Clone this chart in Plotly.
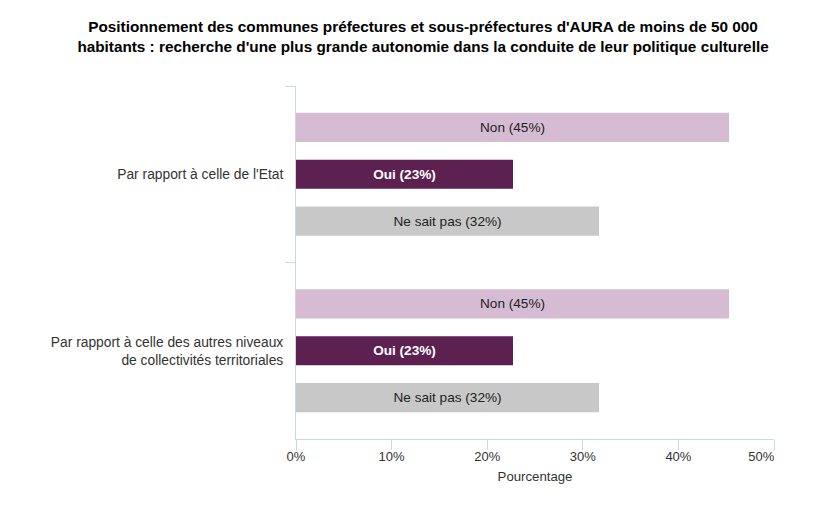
import plotly.graph_objects as go

categories = ["Par rapport à celle de l'Etat",
              "Par rapport à celle des autres niveaux<br>de collectivités territoriales"]
series_names = ["Non", "Oui", "Ne sait pas"]
values = {
    "Non": [45.3, 45.3],
    "Oui": [22.7, 22.7],
    "Ne sait pas": [31.7, 31.7],
}
label_pct = {"Non": ["45%", "45%"], "Oui": ["23%", "23%"], "Ne sait pas": ["32%", "32%"]}
colors = {"Non": "#d5bcd3", "Oui": "#5c2150", "Ne sait pas": "#c8c8c8"}
text_colors = {"Non": "#222222", "Oui": "#ffffff", "Ne sait pas": "#222222"}
x_ticks = [0, 10, 20, 30, 40, 50]
x_ticktext = ["0%", "10%", "20%", "30%", "40%", "50%" + "\u00a0" * 7]

FONT = "Liberation Sans, Arial, sans-serif"

fig = go.Figure()
for name in series_names:
    txt = [f"{name} ({p})" for p in label_pct[name]]
    if name == "Oui":
        txt = [f"<b>{t}</b>" for t in txt]
    fig.add_trace(go.Bar(
        y=categories, x=values[name], name=name, orientation="h",
        marker=dict(color=colors[name], line=dict(width=0)),
        text=txt, textposition="inside", insidetextanchor="middle",
        textfont=dict(family=FONT, size=13.6, color=text_colors[name]),
        hoverinfo="skip",
    ))

fig.update_layout(
    width=823, height=512,
    margin=dict(l=296, r=49, t=86, b=73),
    paper_bgcolor="white", plot_bgcolor="white",
    barmode="group", bargap=0.203, bargroupgap=0.38,
    showlegend=False,
    title=dict(
        text="Positionnement des communes préfectures et sous-préfectures d'AURA de moins de 50 000<br>habitants : recherche d'une plus grande autonomie dans la conduite de leur politique culturelle",
        x=0.514, xanchor="center", y=0.937, yanchor="top",
        font=dict(family=FONT, size=15.3, color="#000000", weight="bold"),
    ),
    font=dict(family=FONT, size=13.6, color="#333333"),
    uniformtext=dict(mode=False),
)
fig.update_xaxes(
    range=[0, 50], tickvals=x_ticks, ticktext=x_ticktext,
    showgrid=False, zeroline=False,
    showline=True, linecolor="#ccd6eb", linewidth=1,
    ticks="outside", ticklen=10, tickcolor="#ccd6eb", tickwidth=1,
    ticklabelstandoff=-5,
    tickfont=dict(family=FONT, size=13, color="#333333"),
    title=dict(text="Pourcentage", font=dict(family=FONT, size=13.2, color="#333333"), standoff=9),
    fixedrange=True,
)
fig.update_yaxes(
    autorange="reversed", showgrid=False, zeroline=False,
    showline=True, linecolor="#ccd6eb", linewidth=1,
    ticks="outside", ticklen=10, tickcolor="#ccd6eb", tickwidth=1,
    tickson="boundaries", ticklabelstandoff=9,
    tickfont=dict(family=FONT, size=13.8, color="#333333"),
    fixedrange=True,
)

fig.write_html("out.html")
